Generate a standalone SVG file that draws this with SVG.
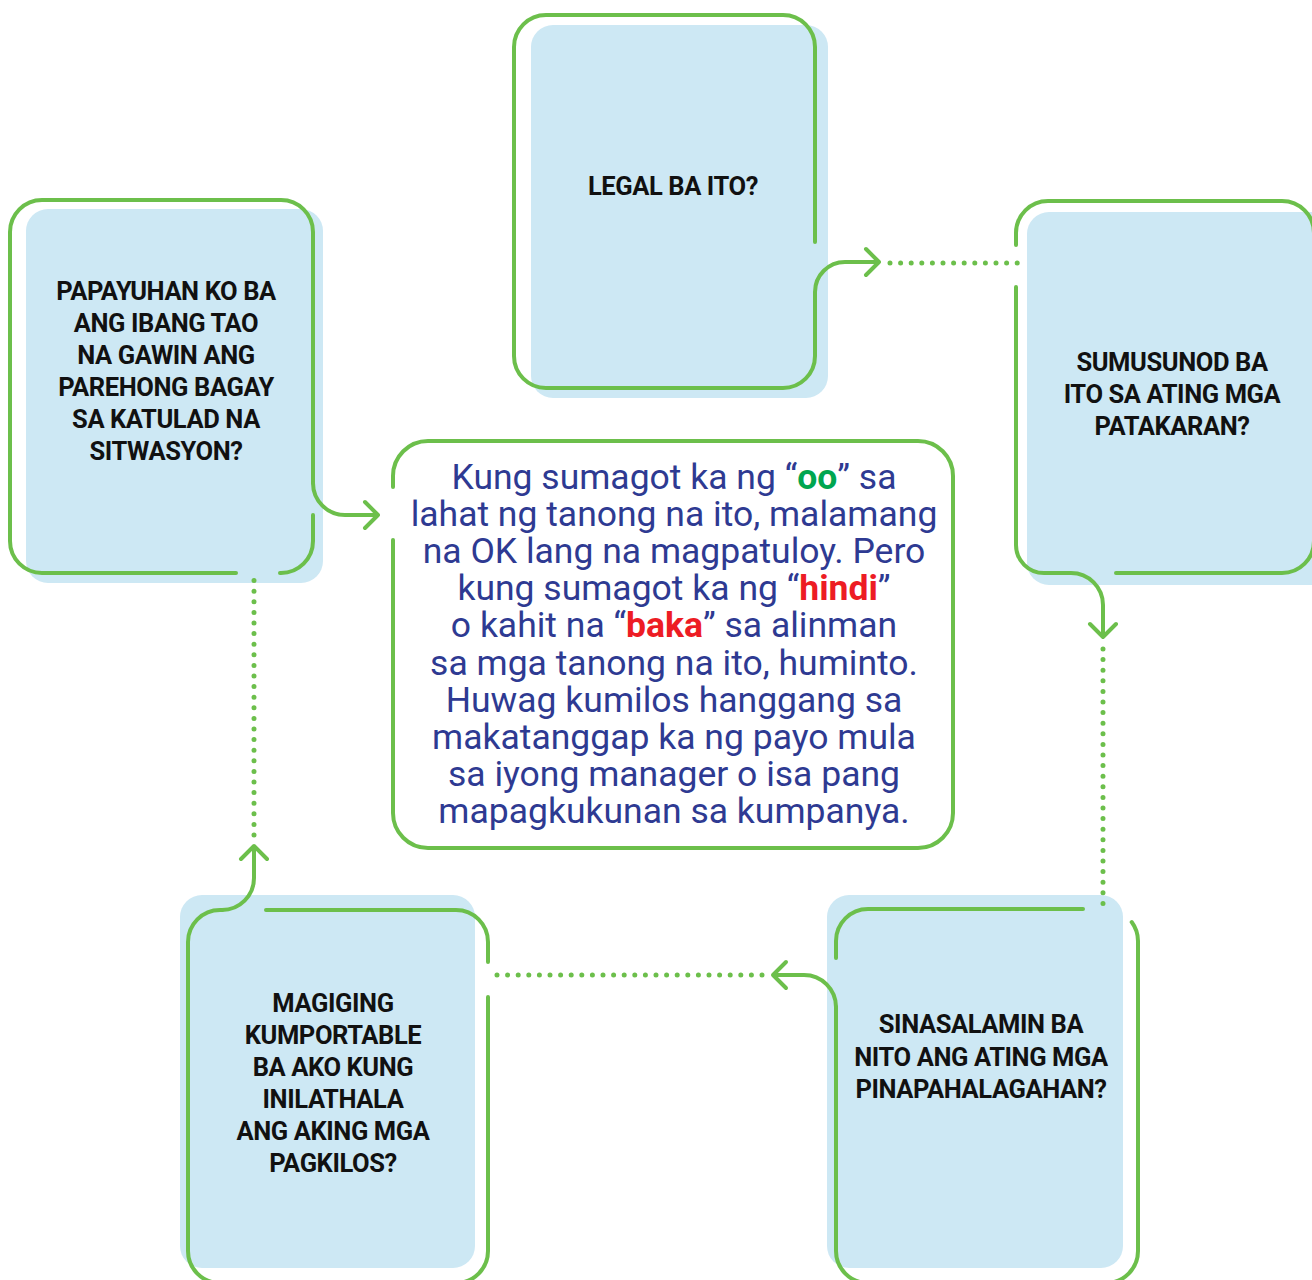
<svg xmlns="http://www.w3.org/2000/svg" width="1312" height="1280" viewBox="0 0 1312 1280">
<defs>
<style>
.fill{fill:#cde8f4}
.ol{fill:none;stroke:#6cbf4b;stroke-width:4;stroke-linecap:round;stroke-linejoin:round}
.dot{fill:none;stroke:#6cbf4b;stroke-width:5;stroke-linecap:round;stroke-dasharray:0 10.6}
.q{font-family:Roboto,"Liberation Sans",sans-serif;font-weight:700;font-size:25.5px;letter-spacing:-0.4px;fill:#111;text-anchor:middle}
.c{font-family:Roboto,"Liberation Sans",sans-serif;font-size:35.5px;fill:#2e3a92;text-anchor:middle}
.g{font-weight:700;fill:#00a650}
.r{font-weight:700;fill:#ed1c24}
</style>
</defs>
<rect width="1312" height="1280" fill="#fff"/>

<g id="node-legal">
<rect class="fill" x="531" y="25" width="297" height="373" rx="22"/>
<path class="ol" d="M815,242 V47 A32,32 0 0 0 783,15 H546 A32,32 0 0 0 514,47 V356 A32,32 0 0 0 546,388 H783 A32,32 0 0 0 815,356 V300"/>
<text class="q" x="673" y="195">LEGAL BA ITO?</text>
</g>

<g id="node-policy">
<rect class="fill" x="1027" y="212" width="320" height="373" rx="22"/>
<path class="ol" d="M1016,245 V233 A32,32 0 0 1 1048,201 H1282 A32,32 0 0 1 1314,233 V541 A32,32 0 0 1 1282,573 H1116"/>
<text class="q" y="371"><tspan x="1172">SUMUSUNOD BA</tspan><tspan x="1172" dy="32">ITO SA ATING MGA</tspan><tspan x="1172" dy="32">PATAKARAN?</tspan></text>
</g>

<g id="node-values">
<rect class="fill" x="827" y="895" width="296" height="373" rx="22"/>
<path class="ol" d="M1083,909 H868 A32,32 0 0 0 836,941 V958"/>
<path class="ol" d="M1131.7,922 A32,32 0 0 1 1138,941 V1251 A32,32 0 0 1 1106,1283 H868 A32,32 0 0 1 836,1251 V1007"/>
<text class="q" y="1033"><tspan x="981">SINASALAMIN BA</tspan><tspan x="981" dy="32.5">NITO ANG ATING MGA</tspan><tspan x="981" dy="32.5">PINAPAHALAGAHAN?</tspan></text>
</g>

<g id="node-publish">
<rect class="fill" x="180" y="895" width="295" height="373" rx="22"/>
<path class="ol" d="M266,910 H456 A32,32 0 0 1 488,942 V962"/>
<path class="ol" d="M488,997 V1251 A32,32 0 0 1 456,1283 H220 A32,32 0 0 1 188,1251 V942 A32,32 0 0 1 220,910 H222"/>
<text class="q" y="1012"><tspan x="333">MAGIGING</tspan><tspan x="333" dy="32">KUMPORTABLE</tspan><tspan x="333" dy="32">BA AKO KUNG</tspan><tspan x="333" dy="32">INILATHALA</tspan><tspan x="333" dy="32">ANG AKING MGA</tspan><tspan x="333" dy="32">PAGKILOS?</tspan></text>
</g>

<g id="node-advise">
<rect class="fill" x="26" y="209" width="297" height="374" rx="22"/>
<path class="ol" d="M313,483 V232 A32,32 0 0 0 281,200 H42 A32,32 0 0 0 10,232 V541 A32,32 0 0 0 42,573 H236"/>
<path class="ol" d="M313,515 V541 A32,32 0 0 1 281,573 H280"/>
<text class="q" y="300"><tspan x="166">PAPAYUHAN KO BA</tspan><tspan x="166" dy="32">ANG IBANG TAO</tspan><tspan x="166" dy="32">NA GAWIN ANG</tspan><tspan x="166" dy="32">PAREHONG BAGAY</tspan><tspan x="166" dy="32">SA KATULAD NA</tspan><tspan x="166" dy="32">SITWASYON?</tspan></text>
</g>

<g id="node-summary">
<path fill="#fff" d="M428,441 H918 A35,35 0 0 1 953,476 V813 A35,35 0 0 1 918,848 H428 A35,35 0 0 1 393,813 V476 A35,35 0 0 1 428,441 Z"/>
<path class="ol" d="M393,487 V476 A35,35 0 0 1 428,441 H918 A35,35 0 0 1 953,476 V813 A35,35 0 0 1 918,848 H428 A35,35 0 0 1 393,813 V540"/>
<text class="c" y="489"><tspan x="674">Kung sumagot ka ng “<tspan class="g">oo</tspan>” sa</tspan><tspan x="674" dy="37.1">lahat ng tanong na ito, malamang</tspan><tspan x="674" dy="37.1">na OK lang na magpatuloy. Pero</tspan><tspan x="674" dy="37.1">kung sumagot ka ng “<tspan class="r">hindi</tspan>”</tspan><tspan x="674" dy="37.1">o kahit na “<tspan class="r">baka</tspan>” sa alinman</tspan><tspan x="674" dy="37.1">sa mga tanong na ito, huminto.</tspan><tspan x="674" dy="37.1">Huwag kumilos hanggang sa</tspan><tspan x="674" dy="37.1">makatanggap ka ng payo mula</tspan><tspan x="674" dy="37.1">sa iyong manager o isa pang</tspan><tspan x="674" dy="37.1">mapagkukunan sa kumpanya.</tspan></text>
</g>

<g id="connectors">
<path class="ol" d="M815,300 V292 A30,30 0 0 1 845,262 H879 M866,249 L879,262 L866,275"/>
<path class="dot" d="M890,263 H1018"/>
<path class="ol" d="M1016,287 V545 A28,28 0 0 0 1044,573 H1071 A32,32 0 0 1 1103,605 V637 M1090,624 L1103,637 L1116,624"/>
<path class="dot" d="M1103,649 V907"/>
<path class="ol" d="M836,1007 A32,32 0 0 0 804,975 H773 M786,962 L773,975 L786,988"/>
<path class="dot" d="M762,975 H488"/>
<path class="ol" d="M222,910 A32,32 0 0 0 254,878 V846 M241,859 L254,846 L267,859"/>
<path class="dot" d="M254,835 V574"/>
<path class="ol" d="M313,483 A32,32 0 0 0 345,515 H378 M365,502 L378,515 L365,528"/>
</g>
</svg>
